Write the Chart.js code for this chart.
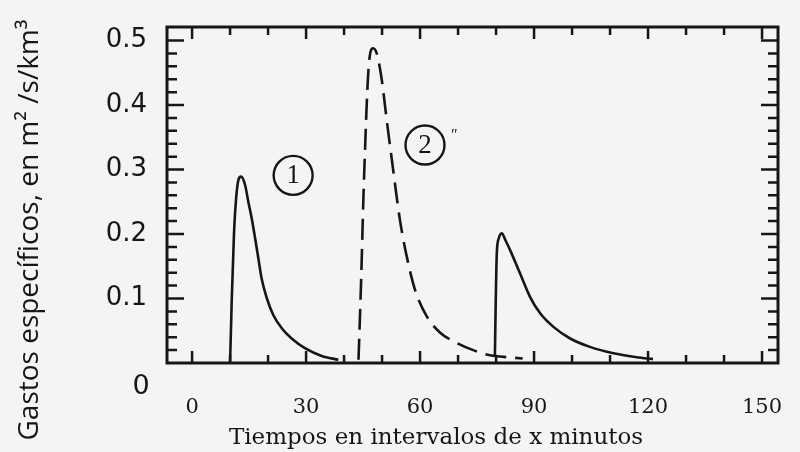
<!DOCTYPE html>
<html>
<head>
<meta charset="utf-8">
<script src="https://cdn.jsdelivr.net/npm/chart.js@4"></script>
<style>
  html, body { margin: 0; padding: 0; background: #f4f4f4; }
  canvas { display: block; }
</style>
</head>
<body>
<canvas id="c" width="800" height="452"></canvas>
<script>
// ---- data ----
const s1T = [10.0, 10.45, 11.05, 11.6, 12.2, 12.9, 13.95, 14.8, 15.7, 16.6, 17.45, 18.3, 19.7, 21.4, 23.6, 26.2, 29.7, 34.1, 38.5];
const s1V = [0.0, 0.100, 0.204, 0.256, 0.284, 0.289, 0.276, 0.250, 0.224, 0.193, 0.162, 0.131, 0.100, 0.074, 0.054, 0.038, 0.023, 0.011, 0.005];

const s2T = [43.8, 44.5, 45.1, 45.5, 46.1, 46.6, 47.6, 48.6, 49.9, 51.2, 52.6, 54.7, 56.5, 58.7, 61.8, 65.3, 69.7, 74.0, 78.4, 81.1, 87.0];
const s2V = [0.005, 0.130, 0.258, 0.328, 0.420, 0.468, 0.488, 0.480, 0.440, 0.378, 0.314, 0.222, 0.165, 0.113, 0.072, 0.047, 0.031, 0.020, 0.012, 0.010, 0.007];

const s3T = [79.7, 79.9, 80.2, 80.7, 81.5, 82.5, 83.7, 86.3, 88.9, 91.6, 95.1, 99.5, 104.7, 110.9, 117.0, 121.3];
const s3V = [0.012, 0.090, 0.171, 0.193, 0.201, 0.190, 0.175, 0.139, 0.103, 0.077, 0.056, 0.038, 0.025, 0.015, 0.009, 0.006];

const xTickLabels = [0, 30, 60, 90, 120, 150];
const xMinorTicks = [0, 10, 20, 30, 40, 50, 60, 70, 80, 90, 100, 110, 120, 130, 140, 150];
const yTickLabels = [0.1, 0.2, 0.3, 0.4, 0.5];
const yMinorTicks = [0.02, 0.04, 0.06, 0.08, 0.1, 0.12, 0.14, 0.16, 0.18, 0.2, 0.22, 0.24, 0.26, 0.28, 0.3,
                     0.32, 0.34, 0.36, 0.38, 0.4, 0.42, 0.44, 0.46, 0.48, 0.5];
const seriesLabels = ['1', '2'];
const seriesLabelPos = [[26.6, 0.291], [61.3, 0.338]];
const xTitle = 'Tiempos en intervalos de x minutos';
const yTitle = 'Gastos específicos, en m² /s/km³';
const originLabel = '0';

const zip = (t, v) => t.map((x, i) => ({ x: x, y: v[i] }));
const INK = '#161616';

const zeroPad = s => { s.paddingTop = 0; s.paddingBottom = 0; s.paddingLeft = 0; s.paddingRight = 0; };

const decor = {
  id: 'decor',
  beforeDraw(chart) {
    const ctx = chart.ctx;
    ctx.save();
    ctx.fillStyle = '#f4f4f4';
    ctx.fillRect(0, 0, chart.width, chart.height);
    ctx.restore();
  },
  afterDraw(chart) {
    const ctx = chart.ctx;
    const a = chart.chartArea;
    const xs = chart.scales.x, ys = chart.scales.y;
    ctx.save();
    ctx.strokeStyle = INK;
    // inward ticks, all four sides
    ctx.lineWidth = 2.5;
    xMinorTicks.forEach(v => {
      const px = xs.getPixelForValue(v);
      const major = xTickLabels.includes(v);
      const lb = major ? 12 : 8;
      ctx.beginPath();
      ctx.moveTo(px, a.bottom); ctx.lineTo(px, a.bottom - lb);
      ctx.moveTo(px, a.top); ctx.lineTo(px, a.top + lb);
      ctx.stroke();
    });
    yMinorTicks.forEach(v => {
      const py = ys.getPixelForValue(v);
      const major = yTickLabels.some(t => Math.abs(t - v) < 1e-9);
      const l = major ? 17 : 10;
      ctx.beginPath();
      ctx.moveTo(a.left, py); ctx.lineTo(a.left + l, py);
      ctx.moveTo(a.right, py); ctx.lineTo(a.right - l, py);
      ctx.stroke();
    });
    // frame
    ctx.lineWidth = 3;
    ctx.strokeRect(a.left, a.top, a.right - a.left, a.bottom - a.top);

    // circled series labels
    seriesLabels.forEach((lab, i) => {
      const cx = xs.getPixelForValue(seriesLabelPos[i][0]);
      const cy = ys.getPixelForValue(seriesLabelPos[i][1]);
      ctx.lineWidth = 2.4;
      ctx.beginPath();
      ctx.arc(cx, cy, 19.5, 0, Math.PI * 2);
      ctx.stroke();
      ctx.fillStyle = INK;
      ctx.font = '27px "Liberation Serif"';
      ctx.textAlign = 'center';
      ctx.textBaseline = 'middle';
      ctx.fillText(lab, cx, cy + 1);
    });
    // small mark next to label 2
    ctx.font = '16px "Liberation Serif"';
    ctx.fillText('ʺ', xs.getPixelForValue(61.3) + 29, ys.getPixelForValue(0.338) - 9);

    // origin label
    ctx.fillStyle = INK;
    ctx.font = '27px "DejaVu Sans"';
    ctx.textAlign = 'center';
    ctx.textBaseline = 'middle';
    ctx.fillText(originLabel, 141, 387);

    // x title
    ctx.textBaseline = 'alphabetic';
    ctx.font = '23px "DejaVu Serif"';
    ctx.fillText(xTitle, 436, 444);

    // y title
    ctx.translate(38, 230);
    ctx.rotate(-Math.PI / 2);
    ctx.font = '28px "Open Sans"';
    ctx.fillText(yTitle, 0, 0);
    ctx.restore();
  }
};

new Chart(document.getElementById('c'), {
  type: 'line',
  data: {
    datasets: [
      { data: zip(s1T, s1V), borderColor: INK, borderWidth: 2.6, pointRadius: 0, cubicInterpolationMode: 'monotone', fill: false },
      { data: zip(s2T, s2V), borderColor: INK, borderWidth: 2.6, borderDash: [21, 9], pointRadius: 0, cubicInterpolationMode: 'monotone', fill: false },
      { data: zip(s3T, s3V), borderColor: INK, borderWidth: 2.6, pointRadius: 0, cubicInterpolationMode: 'monotone', fill: false }
    ]
  },
  options: {
    responsive: false,
    animation: false,
    layout: { autoPadding: false, padding: { top: 27, right: 22, left: 0, bottom: 0 } },
    plugins: { legend: { display: false }, tooltip: { enabled: false } },
    scales: {
      x: {
        type: 'linear', min: -6.6, max: 154.2,
        afterBuildTicks: s => { s.ticks = xTickLabels.map(v => ({ value: v })); },
        afterFit: s => { s.height = 89; zeroPad(s); },
        grid: { display: false, drawTicks: false },
        border: { display: false },
        ticks: { padding: 32, color: INK, font: { family: 'DejaVu Serif', size: 21 }, callback: v => String(v), maxRotation: 0, autoSkip: false }
      },
      y: {
        type: 'linear', min: 0, max: 0.521,
        afterBuildTicks: s => { s.ticks = yTickLabels.map(v => ({ value: v })); },
        afterFit: s => { s.width = 167; zeroPad(s); },
        grid: { display: false, drawTicks: false },
        border: { display: false },
        ticks: { padding: 20, color: INK, font: { family: 'DejaVu Sans', size: 26 }, callback: v => Number(v).toFixed(1), autoSkip: false }
      }
    }
  },
  plugins: [decor]
});
</script>
</body>
</html>
